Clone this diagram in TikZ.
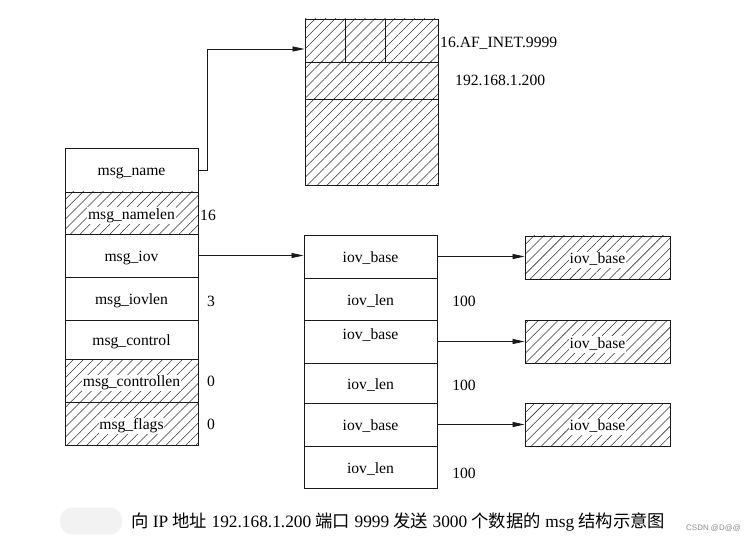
\documentclass[tikz,border=0pt]{standalone}
\usepackage{fontspec}
\setmainfont{Liberation Serif}
\newfontfamily\cjk{Noto Sans CJK SC}
\newfontfamily\wmfont{Liberation Sans}
\usetikzlibrary{arrows.meta,patterns.meta}
\begin{document}
\begin{tikzpicture}[x=1bp,y=-1bp,
  cell/.style={draw=black!90, line width=0.9bp, inner sep=0pt, text height=13bp, text depth=1bp, font=\fontsize{15.7}{18}\selectfont},
  hatch/.style={pattern={Lines[angle=45,distance=7bp,line width=0.55bp]}, pattern color=black!80},
  lbl/.style={font=\fontsize{15.7}{18}\selectfont, inner sep=0.8bp, text height=11bp, text depth=3.5bp, yshift=-2.5bp, fill=white},
  num/.style={font=\fontsize{15.7}{18}\selectfont, inner sep=0pt},
  arr/.style={draw=black!90, line width=0.75bp, -{Triangle[length=12bp,width=5bp]}}]
\useasboundingbox (0,0) rectangle (755,542);
% left msghdr stack
\node[cell, minimum width=133bp, minimum height=44bp] (mn) at (131.5,170) {msg\_name};
\node[cell, hatch, minimum width=133bp, minimum height=42bp] (nl) at (131.5,213) {};
\node[lbl] (nlt) at (nl) {msg\_namelen};
\node[cell, minimum width=133bp, minimum height=43bp] (mi) at (131.5,255.5) {msg\_iov};
\node[cell, minimum width=133bp, minimum height=43bp] (ml) at (131.5,298.5) {msg\_iovlen};
\node[cell, minimum width=133bp, minimum height=39bp] (mc) at (131.5,339.5) {msg\_control};
\node[cell, hatch, minimum width=133bp, minimum height=43bp] (mcl) at (131.5,380.5) {};
\node[lbl] (mclt) at (mcl) {msg\_controllen};
\node[cell, hatch, minimum width=133bp, minimum height=43bp] (mf) at (131.5,423.5) {};
\node[lbl] (mft) at (mf) {msg\_flags};
\node[num, anchor=west] (v16) at (200,215) {16};
\node[num] (v3) at (211,301) {3};
\node[num] (v0a) at (211,381) {0};
\node[num] (v0b) at (211,424) {0};
% sockaddr box
\node[cell, hatch, minimum width=40bp, minimum height=43bp] (t1) at (325,40.5) {};
\node[cell, hatch, minimum width=40bp, minimum height=43bp] (t2) at (365,40.5) {};
\node[cell, hatch, minimum width=53bp, minimum height=43bp] (t3) at (411.5,40.5) {};
\node[cell, hatch, minimum width=133bp, minimum height=37bp] (t4) at (371.5,80.5) {};
\node[cell, hatch, minimum width=133bp, minimum height=86bp] (t5) at (371.5,142) {};
\node[num, anchor=west] (af) at (440,43) {16.AF\_INET.9999};
\node[num, anchor=west] (ip) at (455,80) {192.168.1.200};
% iovec array
\node[cell, minimum width=133bp, minimum height=43bp] (b1) at (370.5,256.5) {iov\_base};
\node[cell, minimum width=133bp, minimum height=42bp] (l1) at (370.5,299) {iov\_len};
\node[cell, minimum width=133bp, minimum height=43bp] (b2) at (370.5,341.5) {\raisebox{8bp}{iov\_base}};
\node[cell, minimum width=133bp, minimum height=40bp] (l2) at (370.5,383) {iov\_len};
\node[cell, minimum width=133bp, minimum height=43bp] (b3) at (370.5,424.5) {iov\_base};
\node[cell, minimum width=133bp, minimum height=42bp] (l3) at (370.5,467) {iov\_len};
\node[num] (h1) at (464,301) {100};
\node[num] (h2) at (464,385) {100};
\node[num] (h3) at (464,473) {100};
% buffers
\node[cell, hatch, minimum width=145bp, minimum height=43bp] (r1) at (597.5,257.5) {};
\node[lbl] (r1t) at (r1) {iov\_base};
\node[cell, hatch, minimum width=145bp, minimum height=43bp] (r2) at (597.5,342) {};
\node[lbl] (r2t) at (r2) {iov\_base};
\node[cell, hatch, minimum width=145bp, minimum height=43bp] (r3) at (597.5,424.5) {};
\node[lbl] (r3t) at (r3) {iov\_base};
% connectors
\draw[arr] (mn.east) -- ++(9,0) |- ([yshift=-8.5bp]t1.west);
\draw[arr] (mi.east) -- (mi.east -| b1.west);
\draw[arr] (b1.east) -- (b1.east -| r1.west);
\draw[arr] (b2.east) -- (b2.east -| r2.west);
\draw[arr] (b3.east) -- (b3.east -| r3.west);
% caption
\node[fill=black!5, draw=none, rounded corners=12bp, minimum width=62bp, minimum height=27bp] (blob) at (91,521) {};
\node[anchor=west, inner sep=0pt, font=\fontsize{17.4}{20}\selectfont] (cap) at (131,522)
  {{\cjk 向} IP {\cjk 地址} 192.168.1.200 {\cjk 端口} 9999 {\cjk 发送} 3000 {\cjk 个数据的} msg {\cjk 结构示意图}};
\node[anchor=west, inner sep=0pt, text=black!45, font=\wmfont\fontsize{8}{10}\selectfont] (wm) at (686,528) {CSDN @D@@};
\end{tikzpicture}
\end{document}
